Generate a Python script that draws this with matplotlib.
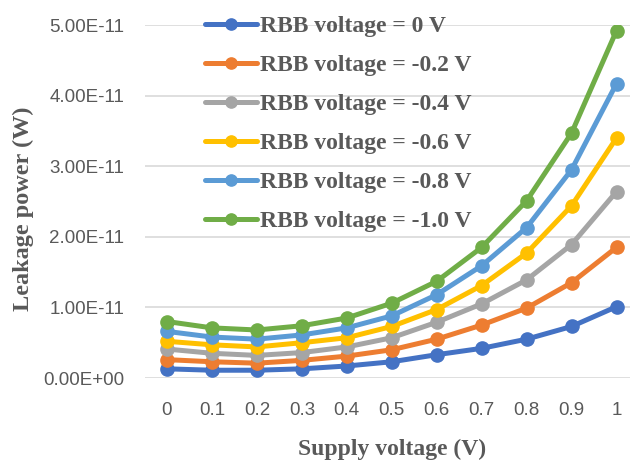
import matplotlib
matplotlib.use("Agg")
import matplotlib.pyplot as plt

supply = ["0", "0.1", "0.2", "0.3", "0.4", "0.5", "0.6", "0.7", "0.8", "0.9", "1"]
labels = ["RBB voltage = 0 V", "RBB voltage = -0.2 V", "RBB voltage = -0.4 V",
          "RBB voltage = -0.6 V", "RBB voltage = -0.8 V", "RBB voltage = -1.0 V"]
rbb_0 = [0.13, 0.11, 0.11, 0.13, 0.17, 0.23, 0.33, 0.42, 0.55, 0.73, 1.01]
rbb_02 = [0.26, 0.23, 0.21, 0.25, 0.31, 0.40, 0.55, 0.75, 0.99, 1.35, 1.85]
rbb_04 = [0.41, 0.35, 0.32, 0.36, 0.44, 0.57, 0.79, 1.05, 1.39, 1.89, 2.64]
rbb_06 = [0.52, 0.47, 0.44, 0.50, 0.57, 0.73, 0.97, 1.31, 1.77, 2.44, 3.40]
rbb_08 = [0.66, 0.58, 0.55, 0.61, 0.71, 0.88, 1.18, 1.59, 2.13, 2.95, 4.17]
rbb_10 = [0.80, 0.71, 0.68, 0.74, 0.85, 1.06, 1.37, 1.85, 2.51, 3.47, 4.92]
series = [rbb_0, rbb_02, rbb_04, rbb_06, rbb_08, rbb_10]
colors = ["#4472C4", "#ED7D31", "#A5A5A5", "#FFC000", "#5B9BD5", "#70AD47"]
scale = 1e-11

fig = plt.figure(figsize=(6.3, 4.61), dpi=100)
ax = fig.add_axes([144.5 / 630, 83 / 461, (630 - 144.5) / 630, (378 - 25) / 461])

xs = list(range(len(supply)))
for vals, lab, c in zip(series, labels, colors):
    ax.plot(xs, [v * scale for v in vals], color=c, lw=3.6, marker="o", ms=9.5, label=lab,
            solid_capstyle="round")

ax.set_xlim(-0.5, 10.3)
ax.set_ylim(0, 5e-11)
ax.set_yticks([i * 1e-11 for i in range(6)])
ax.set_yticklabels(["0.00E+00", "1.00E-11", "2.00E-11", "3.00E-11", "4.00E-11", "5.00E-11"])
ax.set_xticks(xs)
ax.set_xticklabels(supply)
ax.grid(axis="y", color="#D9D9D9", lw=1.2)
ax.set_axisbelow(True)
for s in ax.spines.values():
    s.set_visible(False)
ax.tick_params(length=0, labelsize=13.5, labelcolor="#595959")
for t in ax.get_xticklabels() + ax.get_yticklabels():
    t.set_family("Liberation Sans")
ax.tick_params(axis="x", pad=17)
ax.tick_params(axis="y", pad=14.5)

fig.text(392 / 630, 1 - 460 / 461, "Supply voltage (V)", ha="center", va="bottom", fontsize=17,
         fontweight="bold", family="Liberation Serif", color="#595959")
fig.text(23 / 630, 1 - 209 / 461, "Leakage power (W)", ha="center", va="center", rotation=90,
         fontsize=17.5, fontweight="bold", family="Liberation Serif", color="#595959")

leg = ax.legend(loc="upper left", bbox_to_anchor=(193 / 630, 1 - 4 / 461),
                bbox_transform=fig.transFigure, frameon=False,
                prop={"family": "Liberation Serif", "weight": "bold", "size": 17},
                handlelength=2.2, handletextpad=0.12, labelspacing=0.74, borderpad=0,
                markerscale=0.85)
for t in leg.get_texts():
    t.set_color("#595959")

fig.savefig("out.png", dpi=100)
